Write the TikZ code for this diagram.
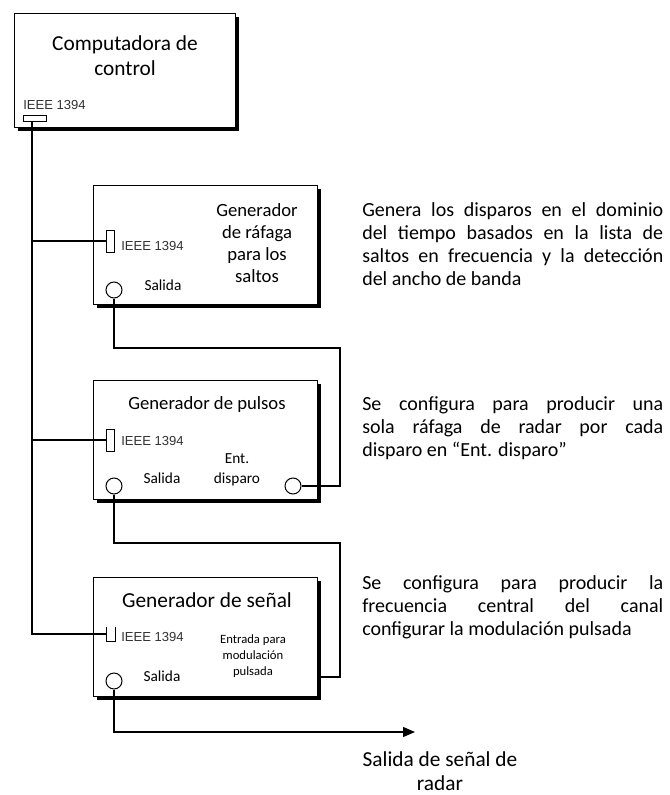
\documentclass[tikz,border=0pt]{standalone}
\usepackage{fontspec}
\setmainfont{Carlito}
\newfontfamily\ieeefont{Liberation Sans}
\usetikzlibrary{math, calc, arrows.meta, shadows}

\tikzset{
    box/.style={draw, fill=white, line width=0.75pt, anchor=north west, inner sep=0pt,
        drop shadow={shadow xshift=2.6pt, shadow yshift=-2.6pt, opacity=1, fill=black}},
    port/.style={draw, line width=0.75pt, inner sep=0pt, minimum width=6pt, minimum height=16.5pt},
    jack/.style={draw, fill=white, circle, line width=0.75pt, inner sep=0pt, minimum size=12pt},
    ieee/.style={anchor=west, inner sep=0pt, text=black!80, font=\ieeefont\fontsize{9.8}{11}\selectfont},
    small/.style={align=center, inner sep=0pt, font=\fontsize{11.5}{15}\selectfont},
    note/.style={anchor=west, align=left, inner sep=0pt, font=\fontsize{15}{17.25}\selectfont},
    wire/.style={line width=0.9pt},
}
\newcommand{\jline}[1]{\makebox[225.75pt][s]{#1}}

\begin{document}
\begin{tikzpicture}[x=0.75pt, y=-0.75pt]
    \tikzmath{
        \boxw=224;
        \boxh=119;
        \loopx=340;
        \busx=32;
    }
    \useasboundingbox (0, 0) rectangle (670, 795);

    % computadora
    \node [box, minimum width=221*0.75pt, minimum height=114*0.75pt] (comp) at (14, 13) {};
    \node [align=center, inner sep=0pt, font=\fontsize{16}{18.75}\selectfont] (compt) at (125, 56) {Computadora de\\control};
    \node [ieee] (compi) at (23, 105) {IEEE 1394};
    \node [port, minimum width=17.25pt, minimum height=4.5pt] (cport) at (35, 119) {};

    % generadores
    \node [box, minimum width=\boxw*0.75pt, minimum height=\boxh*0.75pt] (gen1) at (93, 185) {};
    \node [box, minimum width=\boxw*0.75pt, minimum height=\boxh*0.75pt] (gen2) at (93, 380) {};
    \node [box, minimum width=\boxw*0.75pt, minimum height=\boxh*0.75pt] (gen3) at (93, 577) {};

    % generador de rafaga
    \node [align=center, inner sep=0pt, font=\fontsize{14}{16.5}\selectfont] (g1t) at (257, 243) {Generador\\de ráfaga\\para los\\saltos};
    \node [port] (p1) at (110, 241) {};
    \node [ieee] (g1i) at (121, 246) {IEEE 1394};
    \node [small] (g1s) at (163, 285) {Salida};
    \node [jack] (s1) at (114, 290) {};

    % generador de pulsos
    \node [inner sep=0pt, font=\fontsize{14}{16.5}\selectfont] (g2t) at (207, 405) {Generador de pulsos};
    \node [port] (p2) at (110, 440) {};
    \node [ieee] (g2i) at (121, 441) {IEEE 1394};
    \node [small] (g2e) at (237, 470) {Ent.\\disparo};
    \node [small] (g2s) at (162, 478) {Salida};
    \node [jack] (s2) at (114, 486) {};
    \node [jack] (e2) at (293, 486) {};

    % generador de senal
    \node [inner sep=0pt, font=\fontsize{16}{18.75}\selectfont] (g3t) at (207, 600) {Generador de señal};
    \node [port, draw=none, minimum height=10.5pt] (p3) at (111, 634) {};
    \draw [line width=0.75pt] (p3.north west) |- (p3.south east) -- (p3.north east);
    \node [ieee] (g3i) at (121, 637) {IEEE 1394};
    \node [small, font=\fontsize{9.5}{12}\selectfont] (g3e) at (253, 656) {Entrada para\\modulación\\pulsada};
    \node [small] (g3s) at (162, 676) {Salida};
    \node [jack] (s3) at (114, 681) {};

    % bus IEEE 1394
    \coordinate (bus) at (\busx, 0);
    \draw [wire] (cport.south -| bus) |- (p3.west);
    \draw [wire] (p1.west -| bus) -- (p1.west);
    \draw [wire] (p2.west -| bus) -- (p2.west);

    % senales
    \coordinate (k1) at (\loopx, 348);
    \coordinate (k2) at (\loopx, 543);
    \coordinate (in3) at (321, 677);
    \coordinate (out) at (415, 732);
    \draw [wire] (s1.south) |- (k1) |- (e2.east);
    \draw [wire] (s2.south) |- (k2) |- (in3);
    \draw [wire, -{Triangle[length=9pt, width=7.5pt]}] (s3.south) |- (out);
    \node [align=center, inner sep=0pt, font=\fontsize{16}{18}\selectfont] (outt) at (440, 771) {Salida de señal de\\radar};

    % descripciones
    \node [note] (n1) at (362, 244) {\jline{Genera los disparos en el dominio}\\\jline{del tiempo basados en la lista de}\\\jline{saltos en frecuencia y la detección}\\del ancho de banda};
    \node [note] (n2) at (362, 428) {\jline{Se configura para producir una}\\\jline{sola ráfaga de radar por cada}\\disparo en “Ent. disparo”};
    \node [note] (n3) at (362, 607) {\jline{Se configura para producir la}\\\jline{frecuencia central del canal}\\configurar la modulación pulsada};
\end{tikzpicture}
\end{document}
